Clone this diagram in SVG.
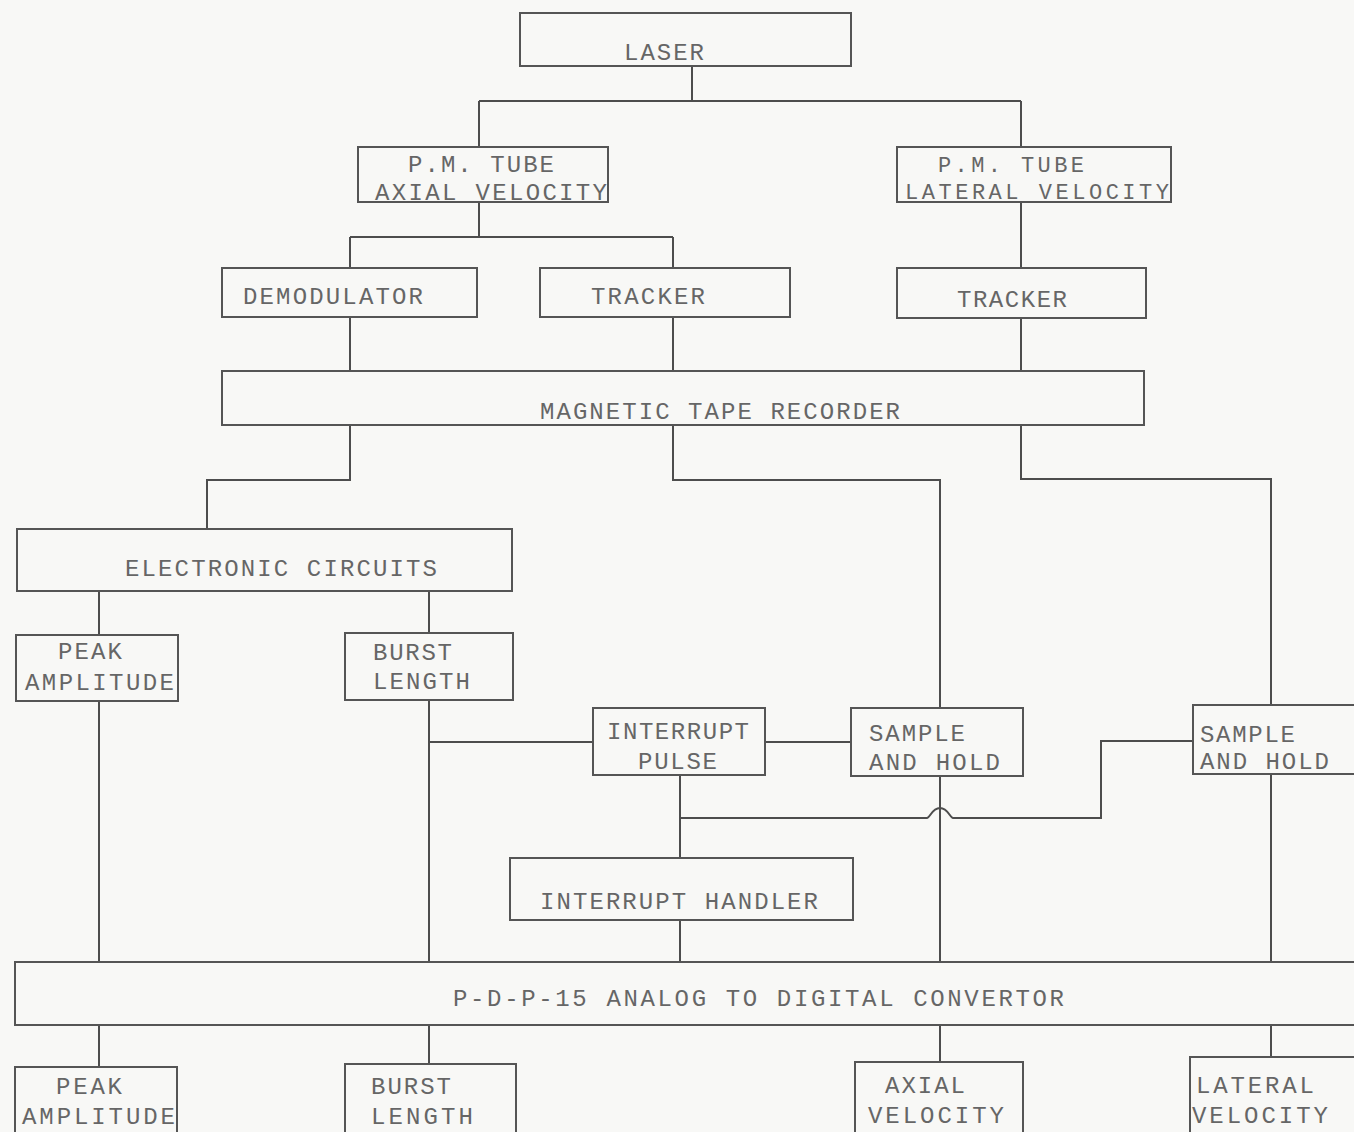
<svg xmlns="http://www.w3.org/2000/svg" width="1354" height="1132" viewBox="0 0 1354 1132">
<style>
.box{fill:none;stroke:#555;stroke-width:2}
.ln{fill:none;stroke:#4d4d4d;stroke-width:2}
.t{font-family:"Liberation Mono","DejaVu Sans Mono",monospace;font-size:24px;fill:#666}
.s{font-size:22px}
</style>
<rect x="0" y="0" width="1354" height="1132" fill="#f8f8f6"/>
<g id="connectors">
<path class="ln" d="M692 66V101M479 101H1021M479 101V147M1021 101V148"/>
<path class="ln" d="M479 202V237M350 237H673M350 237V269M673 237V269"/>
<path class="ln" d="M1021 202V268"/>
<path class="ln" d="M350 317V371M673 317V371M1021 318V371"/>
<path class="ln" d="M350 425V480H207V529"/>
<path class="ln" d="M673 425V480H940V708"/>
<path class="ln" d="M1021 425V479H1271V705"/>
<path class="ln" d="M99 591V635M429 591V633"/>
<path class="ln" d="M99 701V962M429 700V962"/>
<path class="ln" d="M429 742H593M765 742H851"/>
<path class="ln" d="M680 775V858M680 920V962"/>
<path class="ln" d="M680 818H927C930 818 932 808 940 808C948 808 950 818 953 818H1101V741H1193"/>
<path class="ln" d="M940 776V962M1271 774V962"/>
<path class="ln" d="M99 1025V1067M429 1025V1064M940 1025V1062M1271 1025V1057"/>
</g>
<g id="laser"><rect class="box" x="520" y="13" width="331" height="53"/><text class="t" x="624" y="60" textLength="80">LASER</text></g>
<g id="pm-axial"><rect class="box" x="358" y="147" width="250" height="55"/><text class="t" x="408" y="172" textLength="146">P.M. TUBE</text><text class="t" x="375" y="200" textLength="232">AXIAL VELOCITY</text></g>
<g id="pm-lateral"><rect class="box" x="897" y="147" width="274" height="55"/><text class="t s" x="938" y="172" textLength="146">P.M. TUBE</text><text class="t s" x="905" y="199" textLength="264">LATERAL VELOCITY</text></g>
<g id="demodulator"><rect class="box" x="222" y="268" width="255" height="49"/><text class="t" x="243" y="304" textLength="180">DEMODULATOR</text></g>
<g id="tracker-axial"><rect class="box" x="540" y="268" width="250" height="49"/><text class="t" x="591" y="304" textLength="114">TRACKER</text></g>
<g id="tracker-lateral"><rect class="box" x="897" y="268" width="249" height="50"/><text class="t" x="957" y="307" textLength="110">TRACKER</text></g>
<g id="tape-recorder"><rect class="box" x="222" y="371" width="922" height="54"/><text class="t" x="540" y="419" textLength="360">MAGNETIC TAPE RECORDER</text></g>
<g id="electronic-circuits"><rect class="box" x="17" y="529" width="495" height="62"/><text class="t" x="125" y="576" textLength="312">ELECTRONIC CIRCUITS</text></g>
<g id="peak-amplitude-1"><rect class="box" x="16" y="635" width="162" height="66"/><text class="t" x="58" y="659" textLength="64">PEAK</text><text class="t" x="25" y="690" textLength="149">AMPLITUDE</text></g>
<g id="burst-length-1"><rect class="box" x="345" y="633" width="168" height="67"/><text class="t" x="373" y="660" textLength="79">BURST</text><text class="t" x="373" y="689" textLength="97">LENGTH</text></g>
<g id="interrupt-pulse"><rect class="box" x="593" y="708" width="172" height="67"/><text class="t" x="607" y="739" textLength="142">INTERRUPT</text><text class="t" x="638" y="769" textLength="79">PULSE</text></g>
<g id="sample-hold-axial"><rect class="box" x="851" y="708" width="172" height="68"/><text class="t" x="869" y="741" textLength="96">SAMPLE</text><text class="t" x="869" y="770" textLength="131">AND HOLD</text></g>
<g id="sample-hold-lateral"><rect class="box" x="1193" y="705" width="180" height="69"/><text class="t" x="1200" y="742" textLength="95">SAMPLE</text><text class="t" x="1200" y="769" textLength="129">AND HOLD</text></g>
<g id="interrupt-handler"><rect class="box" x="510" y="858" width="343" height="62"/><text class="t" x="540" y="909" textLength="278">INTERRUPT HANDLER</text></g>
<g id="adc"><rect class="box" x="15" y="962" width="1360" height="63"/><text class="t" x="453" y="1006" textLength="611">P-D-P-15  ANALOG TO DIGITAL CONVERTOR</text></g>
<g id="peak-amplitude-2"><rect class="box" x="15" y="1067" width="162" height="80"/><text class="t" x="56" y="1094" textLength="66">PEAK</text><text class="t" x="22" y="1124" textLength="153">AMPLITUDE</text></g>
<g id="burst-length-2"><rect class="box" x="345" y="1064" width="171" height="80"/><text class="t" x="371" y="1094" textLength="80">BURST</text><text class="t" x="371" y="1124" textLength="102">LENGTH</text></g>
<g id="axial-velocity"><rect class="box" x="855" y="1062" width="168" height="80"/><text class="t" x="885" y="1093" textLength="80">AXIAL</text><text class="t" x="868" y="1123" textLength="136">VELOCITY</text></g>
<g id="lateral-velocity"><rect class="box" x="1190" y="1057" width="180" height="85"/><text class="t" x="1196" y="1093" textLength="118">LATERAL</text><text class="t" x="1192" y="1123" textLength="136">VELOCITY</text></g>
</svg>
